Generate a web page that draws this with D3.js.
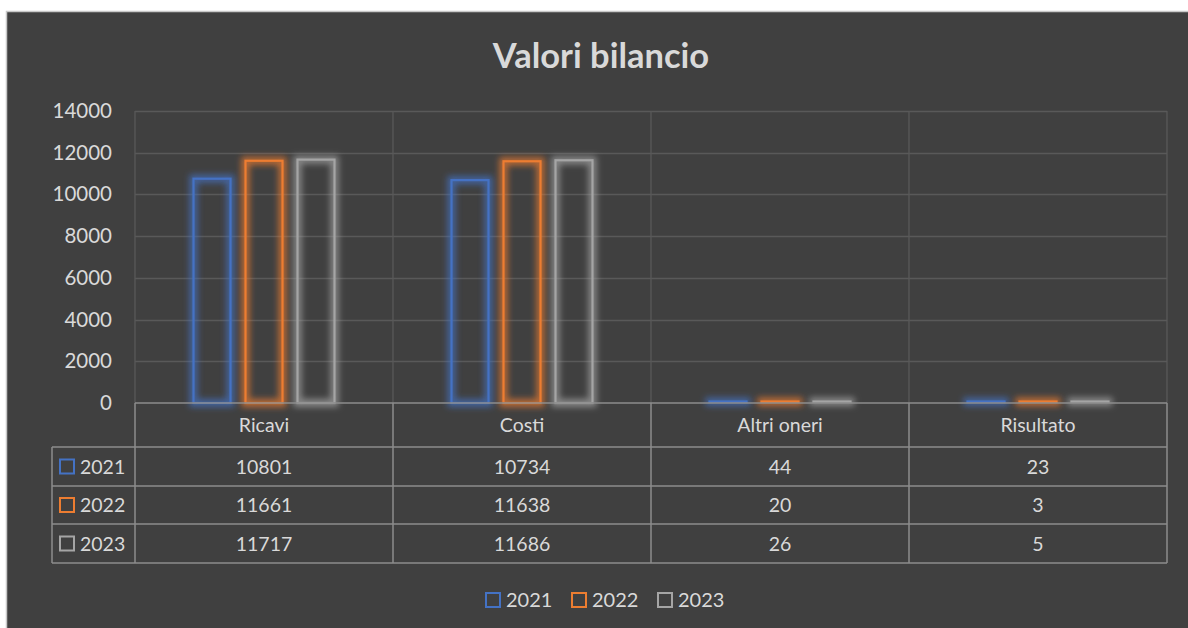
<!DOCTYPE html>
<html><head><meta charset="utf-8">
<script src="https://cdn.jsdelivr.net/npm/d3@7"></script>
<style>html,body{margin:0;padding:0;background:#fff;}svg{display:block;}</style>
</head><body>
<svg id="c" width="1188" height="628"></svg>
<script>
const categories = ["Ricavi", "Costi", "Altri oneri", "Risultato"];
const seriesNames = ["2021", "2022", "2023"];
const values2021 = [10801, 10734, 44, 23];
const values2022 = [11661, 11638, 20, 3];
const values2023 = [11717, 11686, 26, 5];
const yTicks = [0, 2000, 4000, 6000, 8000, 10000, 12000, 14000];
const colors = ["#4472C4", "#ED7D31", "#A5A5A5"];
const title = "Valori bilancio";

(function () {
const series = [values2021, values2022, values2023];
const font = "Lato, 'Open Sans', sans-serif";
const textCol = "#D9D9D9";
const fs = 19.5;
const svg = d3.select("#c");

svg.append("rect").attr("x", 6.5).attr("y", 11.5).attr("width", 1190).attr("height", 630)
  .attr("fill", "#404040").attr("stroke", "#c8c8c8").attr("stroke-width", 1.5);

const defs = svg.append("defs");
colors.forEach((c, i) => {
  const f = defs.append("filter").attr("id", "glow" + i)
    .attr("filterUnits", "userSpaceOnUse").attr("x", 0).attr("y", 0).attr("width", 1188).attr("height", 628);
  f.append("feMorphology").attr("in", "SourceGraphic").attr("operator", "dilate").attr("radius", 2.5).attr("result", "d");
  f.append("feGaussianBlur").attr("in", "d").attr("stdDeviation", 3.2).attr("result", "b");
  f.append("feComponentTransfer").attr("in", "b").attr("result", "b2")
    .append("feFuncA").attr("type", "linear").attr("slope", 0.7);
  const m = f.append("feMerge");
  m.append("feMergeNode").attr("in", "b2");
  m.append("feMergeNode").attr("in", "SourceGraphic");
});

const pL = 135, pR = 1167, pT = 111, pB = 403;
const x = d3.scaleBand().domain(categories).range([pL, pR]).paddingInner(0).paddingOuter(0);
const y = d3.scaleLinear().domain([0, 14000]).range([pB, pT]);
const xs = d3.scaleBand().domain(seriesNames).range([0, x.bandwidth()]).paddingInner(0.25).paddingOuter(1.106);

svg.append("text").attr("x", 601).attr("y", 68).attr("text-anchor", "middle")
  .attr("font-family", font).attr("font-weight", "bold").attr("font-size", 34.5)
  .attr("fill", textCol).text(title);

svg.append("g").selectAll("line").data(yTicks.filter(d => d > 0)).join("line")
  .attr("x1", pL).attr("x2", pR).attr("y1", d => Math.round(y(d)) + 0.5).attr("y2", d => Math.round(y(d)) + 0.5)
  .attr("stroke", "#595959").attr("stroke-width", 1.3);
svg.append("g").selectAll("line").data(d3.range(categories.length + 1)).join("line")
  .attr("x1", i => pL + i * x.bandwidth()).attr("x2", i => pL + i * x.bandwidth())
  .attr("y1", pT).attr("y2", pB).attr("stroke", "#595959").attr("stroke-width", 1.3);

const yAxis = d3.axisLeft(y).tickValues(yTicks).tickSize(0).tickPadding(0).tickFormat(d3.format("d"));
const ya = svg.append("g").attr("transform", `translate(112,0)`).call(yAxis);
ya.select(".domain").remove();
ya.selectAll("text").attr("font-family", font).attr("font-size", 20.5).attr("fill", textCol);

series.forEach((vals, si) => {
  svg.append("g").attr("filter", `url(#glow${si})`).selectAll("rect").data(vals).join("rect")
    .attr("x", (d, i) => x(categories[i]) + xs(seriesNames[si]) + 1)
    .attr("y", d => Math.min(y(d) + 1, pB - 1.5))
    .attr("width", xs.bandwidth() - 2)
    .attr("height", d => Math.max(0.5, pB - y(d) - 1))
    .attr("fill", "none").attr("stroke", colors[si]).attr("stroke-width", 2.2);
});

const tableLeft = 52, rowH = [44, 39, 38, 39];
const rowY = [pB];
rowH.forEach((h, i) => rowY.push(rowY[i] + h));
const tcol = "#8c8c8c";
const tg = svg.append("g");
rowY.forEach((yy, i) => {
  tg.append("line").attr("x1", i === 0 ? pL : tableLeft).attr("x2", pR)
    .attr("y1", yy).attr("y2", yy).attr("stroke", tcol).attr("stroke-width", 1.5);
});
tg.append("line").attr("x1", tableLeft).attr("x2", tableLeft).attr("y1", rowY[1]).attr("y2", rowY[4]).attr("stroke", tcol).attr("stroke-width", 1.5);
d3.range(categories.length + 1).forEach(i => {
  const xx = pL + i * x.bandwidth();
  tg.append("line").attr("x1", xx).attr("x2", xx).attr("y1", rowY[0]).attr("y2", rowY[4]).attr("stroke", tcol).attr("stroke-width", 1.5);
});
tg.selectAll("text.h").data(categories).join("text").attr("class", "h")
  .attr("x", d => x(d) + x.bandwidth() / 2).attr("y", (rowY[0] + rowY[1]) / 2 + 7)
  .attr("text-anchor", "middle").attr("font-family", font).attr("font-size", fs).attr("fill", textCol).text(d => d);
series.forEach((vals, si) => {
  const cy = (rowY[si + 1] + rowY[si + 2]) / 2 + 7;
  tg.append("rect").attr("x", 60).attr("y", cy - 14).attr("width", 14).attr("height", 14)
    .attr("fill", "none").attr("stroke", colors[si]).attr("stroke-width", 2);
  tg.append("text").attr("x", 80).attr("y", cy).attr("font-family", font).attr("font-size", fs)
    .attr("fill", textCol).text(seriesNames[si]);
  tg.selectAll(null).data(vals).join("text")
    .attr("x", (d, i) => x(categories[i]) + x.bandwidth() / 2).attr("y", cy)
    .attr("text-anchor", "middle").attr("font-family", font).attr("font-size", fs).attr("fill", textCol).text(d => d);
});

const legX = [486, 572, 658];
seriesNames.forEach((n, i) => {
  svg.append("rect").attr("x", legX[i]).attr("y", 593).attr("width", 14).attr("height", 14)
    .attr("fill", "none").attr("stroke", colors[i]).attr("stroke-width", 2);
  svg.append("text").attr("x", legX[i] + 20).attr("y", 607).attr("font-family", font).attr("font-size", fs + 0.5)
    .attr("fill", textCol).text(n);
});
})();
</script>
</body></html>
